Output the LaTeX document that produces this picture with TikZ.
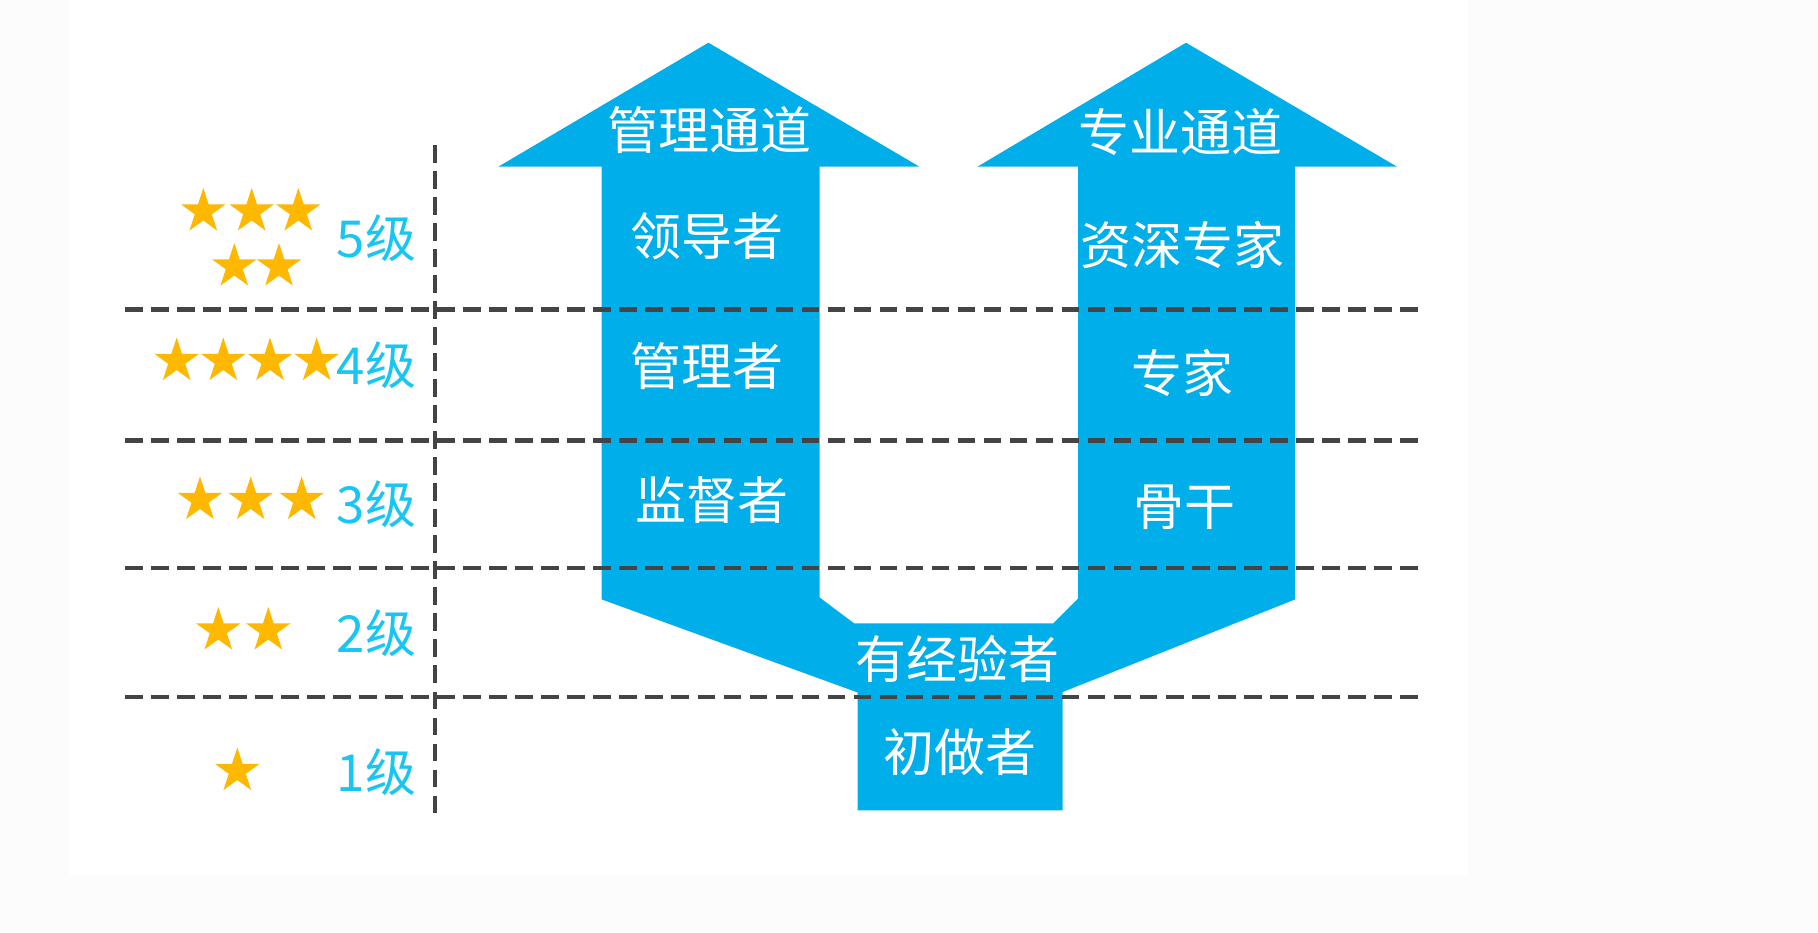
\documentclass[tikz,border=0pt]{standalone}
\usepackage{fontspec}
\setmainfont{Noto Sans CJK SC}
\usetikzlibrary{shapes.geometric}
\definecolor{pathblue}{HTML}{00AEEA}
\definecolor{stargold}{HTML}{FFB800}
\definecolor{levelcyan}{HTML}{19C6F3}
\definecolor{gridgray}{HTML}{444444}
\definecolor{paper}{HTML}{FCFCFC}
\begin{document}
\begin{tikzpicture}[x=0.01cm,y=-0.01cm,
	star5/.style={star,star points=5,star point ratio=2.618,fill=stargold,inner sep=0pt,minimum size=0.47cm},
	level/.style={text=levelcyan,font=\fontsize{14.5pt}{17pt}\selectfont,inner sep=0pt},
	track/.style={text=white,font=\fontsize{14.5pt}{17pt}\selectfont,inner sep=0pt},
	gridline/.style={gridgray,line width=1.3pt,dash pattern=on 5pt off 2.4pt}]
	\fill[paper] (0,0) rectangle (1818,932);
	\fill[white] (70,0) rectangle (1468,875);
	\useasboundingbox (0,0) rectangle (1818,932);
	% the two tracks
	\fill[pathblue] (708.4,42.7) -- (919.5,166.7) -- (819.7,166.7) -- (819.7,597.5)
		-- (854,623.3) -- (1053.3,623.3) -- (1078.2,598.3) -- (1078.2,166.7)
		-- (977.4,166.7) -- (1186,42.7) -- (1397,166.7) -- (1295,166.7)
		-- (1295,599.4) -- (1062.7,692) -- (1062.7,810.4) -- (857.7,810.4)
		-- (857.7,692.5) -- (601.7,599.4) -- (601.7,166.7) -- (498.3,166.7) -- cycle;
	% level lines
	\foreach \y in {309.3,440.6,567.8,696.8}
	\draw[gridline] (125,\y) -- (1419,\y);
	\draw[gridline] (435,145) -- (435,821);
	% stars
	\foreach \x [count=\i] in {203.3,251.7,298.3}
	\node[star5] (s5a\i) at (\x,211.5) {};
	\foreach \x [count=\i] in {234.3,279}
	\node[star5] (s5b\i) at (\x,266.5) {};
	\foreach \x [count=\i] in {176.7,223.3,270,316.7}
	\node[star5] (s4\i) at (\x,361) {};
	\foreach \x [count=\i] in {200,250.7,301.7}
	\node[star5] (s3\i) at (\x,500) {};
	\foreach \x [count=\i] in {218.3,268.3}
	\node[star5] (s2\i) at (\x,630.5) {};
	\node[star5] (s11) at (237.3,771) {};
	% levels
	\foreach \y [count=\i] in {772.5,633,504,365,238}
	\node[level] (lv\i) at (376.5,\y) {\i 级};
	% management track
	\node[track] (mgmt) at (709,130) {管理通道};
	\node[track] (leader) at (707.2,236.5) {领导者};
	\node[track] (manager) at (707.2,366.4) {管理者};
	\node[track] (super) at (711.9,499.7) {监督者};
	% expert track
	\node[track] (prof) at (1180.3,132.2) {专业通道};
	\node[track] (senior) at (1182.6,244.6) {资深专家};
	\node[track] (expert) at (1182.6,373.3) {专家};
	\node[track] (core) at (1184.9,506.7) {骨干};
	% common base
	\node[track] (exper) at (957.7,658.5) {有经验者};
	\node[track] (novice) at (960,752.4) {初做者};
\end{tikzpicture}
\end{document}
